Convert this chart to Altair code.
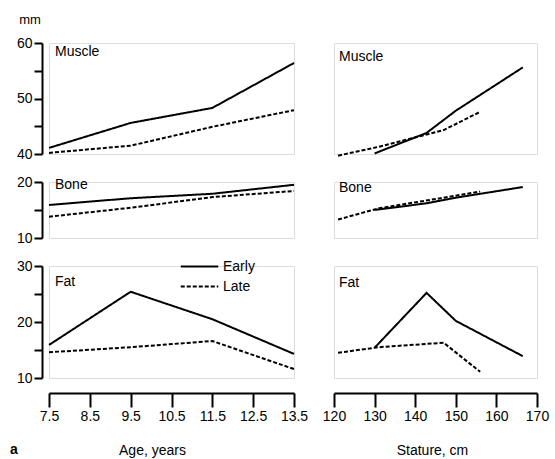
import altair as alt
import pandas as pd

# ---- data ----
age = [7.5, 9.5, 11.5, 13.5]
muscle_early_age = [41.1, 45.6, 48.3, 56.4]
muscle_late_age = [40.2, 41.5, 44.9, 47.9]
bone_early_age = [15.9, 17.1, 17.9, 19.5]
bone_late_age = [13.8, 15.4, 17.3, 18.4]
fat_early_age = [15.9, 25.4, 20.5, 14.3]
fat_late_age = [14.6, 15.5, 16.6, 11.6]

stature_early = [130, 142.8, 150, 166.5]
stature_late = [121, 131, 147, 156]
muscle_early_st = [40.1, 43.8, 47.8, 55.6]
muscle_late_st = [39.7, 41.3, 44.3, 47.6]
bone_early_st = [15.0, 16.2, 17.2, 19.1]
bone_late_st = [13.3, 15.3, 17.2, 18.3]
fat_early_st = [15.4, 25.2, 20.2, 13.9]
fat_late_st = [14.5, 15.5, 16.3, 11.1]

age_ticks = [7.5, 8.5, 9.5, 10.5, 11.5, 12.5, 13.5]
stature_ticks = [120, 130, 140, 150, 160, 170]

FONT = "Liberation Sans"

def frame(xs_e, ys_e, xs_l, ys_l):
    rows = []
    for x, y in zip(xs_e, ys_e):
        rows.append({"x": x, "y": y, "group": "Early"})
    for x, y in zip(xs_l, ys_l):
        rows.append({"x": x, "y": y, "group": "Late"})
    return pd.DataFrame(rows)

dash = alt.StrokeDash(
    "group:N",
    scale=alt.Scale(domain=["Early", "Late"], range=[[1, 0], [4, 2]]),
    legend=alt.Legend(
        title=None, orient="none", legendX=142, legendY=215,
        symbolType="M-2.5,0H2.5", symbolSize=225, symbolStrokeWidth=2,
        symbolStrokeColor="black", labelFontSize=14, labelFont=FONT,
        labelColor="black", labelOffset=15, rowPadding=4,
    ),
)

def yaxis(ticks):
    return alt.Axis(
        values=ticks, labelExpr="datum.value % 10 == 0 ? datum.label : ''",
        tickSize=8, tickWidth=2, domainWidth=2, domainColor="black",
        tickColor="black", labelColor="black", grid=False, title=None,
        offset=7, labelFontSize=14, labelFont=FONT, labelPadding=2,
        labelOverlap=False,
    )

def xaxis(ticks, fmt, title, tx):
    return alt.Axis(
        values=ticks, format=fmt, tickSize=14, tickWidth=2, domainWidth=2,
        domainColor="black", tickColor="black", labelColor="black",
        grid=False, offset=15, labelFontSize=14, labelFont=FONT,
        labelPadding=2, labelOverlap=False, labelAlign="center",
        title=title, titleFontSize=14, titleFont=FONT,
        titleFontWeight="normal", titleColor="black", titleX=tx,
        titleAlign="center", titlePadding=20,
    )

def panel(df, label, lx, ly, xdom, ydom, width, height, ax_y, ax_x, extras=None):
    line = alt.Chart(df).mark_line(color="black", strokeWidth=2).encode(
        x=alt.X("x:Q", scale=alt.Scale(domain=xdom, nice=False, zero=False), axis=ax_x),
        y=alt.Y("y:Q", scale=alt.Scale(domain=ydom, nice=False, zero=False), axis=ax_y),
        strokeDash=dash,
    )
    txt = alt.Chart(pd.DataFrame({"t": [label]})).mark_text(
        align="left", baseline="middle", fontSize=14, font=FONT, color="black"
    ).encode(x=alt.value(lx), y=alt.value(ly), text="t:N")
    layers = [line, txt]
    if extras:
        layers += extras
    return alt.layer(*layers).properties(width=width, height=height)

LW, RW = 245, 203
HM, HB, HF = 111, 56, 112
AD = [7.5, 13.5]
SD = [120, 170]

mm = alt.Chart(pd.DataFrame({"t": ["mm"]})).mark_text(
    align="center", baseline="middle", fontSize=13, font=FONT, color="black"
).encode(x=alt.value(-19), y=alt.value(-23), text="t:N")
lab_a = alt.Chart(pd.DataFrame({"t": ["a"]})).mark_text(
    align="left", baseline="middle", fontSize=14, font=FONT, fontWeight="bold", color="black"
).encode(x=alt.value(-39), y=alt.value(184), text="t:N")

m_l = panel(frame(age, muscle_early_age, age, muscle_late_age), "Muscle", 6, 9,
            AD, [40, 60], LW, HM, yaxis([40, 45, 50, 55, 60]), None, [mm])
m_r = panel(frame(stature_early, muscle_early_st, stature_late, muscle_late_st), "Muscle", 5, 14,
            SD, [40, 60], RW, HM, None, None)
b_l = panel(frame(age, bone_early_age, age, bone_late_age), "Bone", 6, 3,
            AD, [10, 20], LW, HB, yaxis([10, 15, 20]), None)
b_r = panel(frame(stature_early, bone_early_st, stature_late, bone_late_st), "Bone", 5, 6,
            SD, [10, 20], RW, HB, None, None)
f_l = panel(frame(age, fat_early_age, age, fat_late_age), "Fat", 6, 16,
            AD, [10, 30], LW, HF, yaxis([10, 15, 20, 25, 30]),
            xaxis(age_ticks, ".1f", "Age, years", 103), [lab_a])
f_r = panel(frame(stature_early, fat_early_st, stature_late, fat_late_st), "Fat", 5, 17,
            SD, [10, 30], RW, HF, None,
            xaxis(stature_ticks, "d", "Stature, cm", 98))

chart = alt.concat(
    m_l, m_r, b_l, b_r, f_l, f_r, columns=2,
    spacing={"row": 28, "column": 40}, bounds="flush",
).properties(
    padding={"left": 9, "top": 13, "right": 5, "bottom": 5}
).resolve_scale(x="independent", y="independent").configure_view(stroke=None).configure(background="white")

chart.save("out.html", embed_options={"renderer": "svg", "actions": False})
